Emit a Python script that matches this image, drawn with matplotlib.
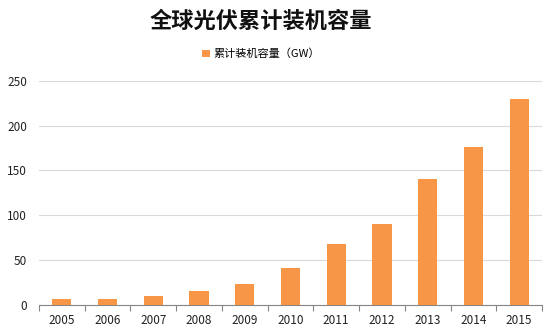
import matplotlib
matplotlib.use("Agg")
import matplotlib.pyplot as plt
import numpy as np

plt.rcParams['font.family'] = ['Noto Sans CJK SC', 'DejaVu Sans']

years = ['2005', '2006', '2007', '2008', '2009', '2010', '2011', '2012', '2013', '2014', '2015']
capacity = [5.6, 6.7, 9.2, 15.3, 22.8, 41, 67.6, 90, 140.5, 176, 230]
series_name = '累计装机容量（GW）'
title = '全球光伏累计装机容量'
y_ticks = [0, 50, 100, 150, 200, 250]

fig = plt.figure(figsize=(5.54, 3.29), dpi=100)
ax = fig.add_axes([39/554, 1 - 304.5/329, (542 - 39)/554, (304.5 - 81)/329])

x = np.arange(len(years))
ax.bar(x, capacity, width=0.42, color='#F79646', zorder=3, label=series_name)

ax.set_xlim(-0.5, len(years) - 0.5)
ax.set_ylim(0, 250)
ax.set_yticks(y_ticks)
ax.set_yticklabels([str(v) for v in y_ticks])
ax.yaxis.grid(True, color='#D9D9D9', linewidth=0.8, zorder=0)
ax.tick_params(axis='y', length=0, pad=8.5, labelsize=8.5, labelcolor='#222222')

ax.set_xticks(x)
ax.set_xticklabels(years)
ax.set_xticks(np.arange(len(years) + 1) - 0.5, minor=True)
ax.tick_params(axis='x', which='major', length=0, pad=7, labelsize=8.5, labelcolor='#222222')
ax.tick_params(axis='x', which='minor', length=4, color='#868686', width=0.8)

for s in ['top', 'right', 'left']:
    ax.spines[s].set_visible(False)
ax.spines['bottom'].set_color('#868686')
ax.spines['bottom'].set_linewidth(0.8)

fig.text(261/554, 1 - 21/329, title, ha='center', va='center', fontsize=16, fontweight='bold', color='#111111')
leg = fig.legend(loc='center', bbox_to_anchor=(261/554, 1 - 54/329), frameon=False,
                 fontsize=8, handlelength=0.7, handleheight=0.7, handletextpad=0.3)

fig.savefig('out.png', dpi=100, facecolor='white')
